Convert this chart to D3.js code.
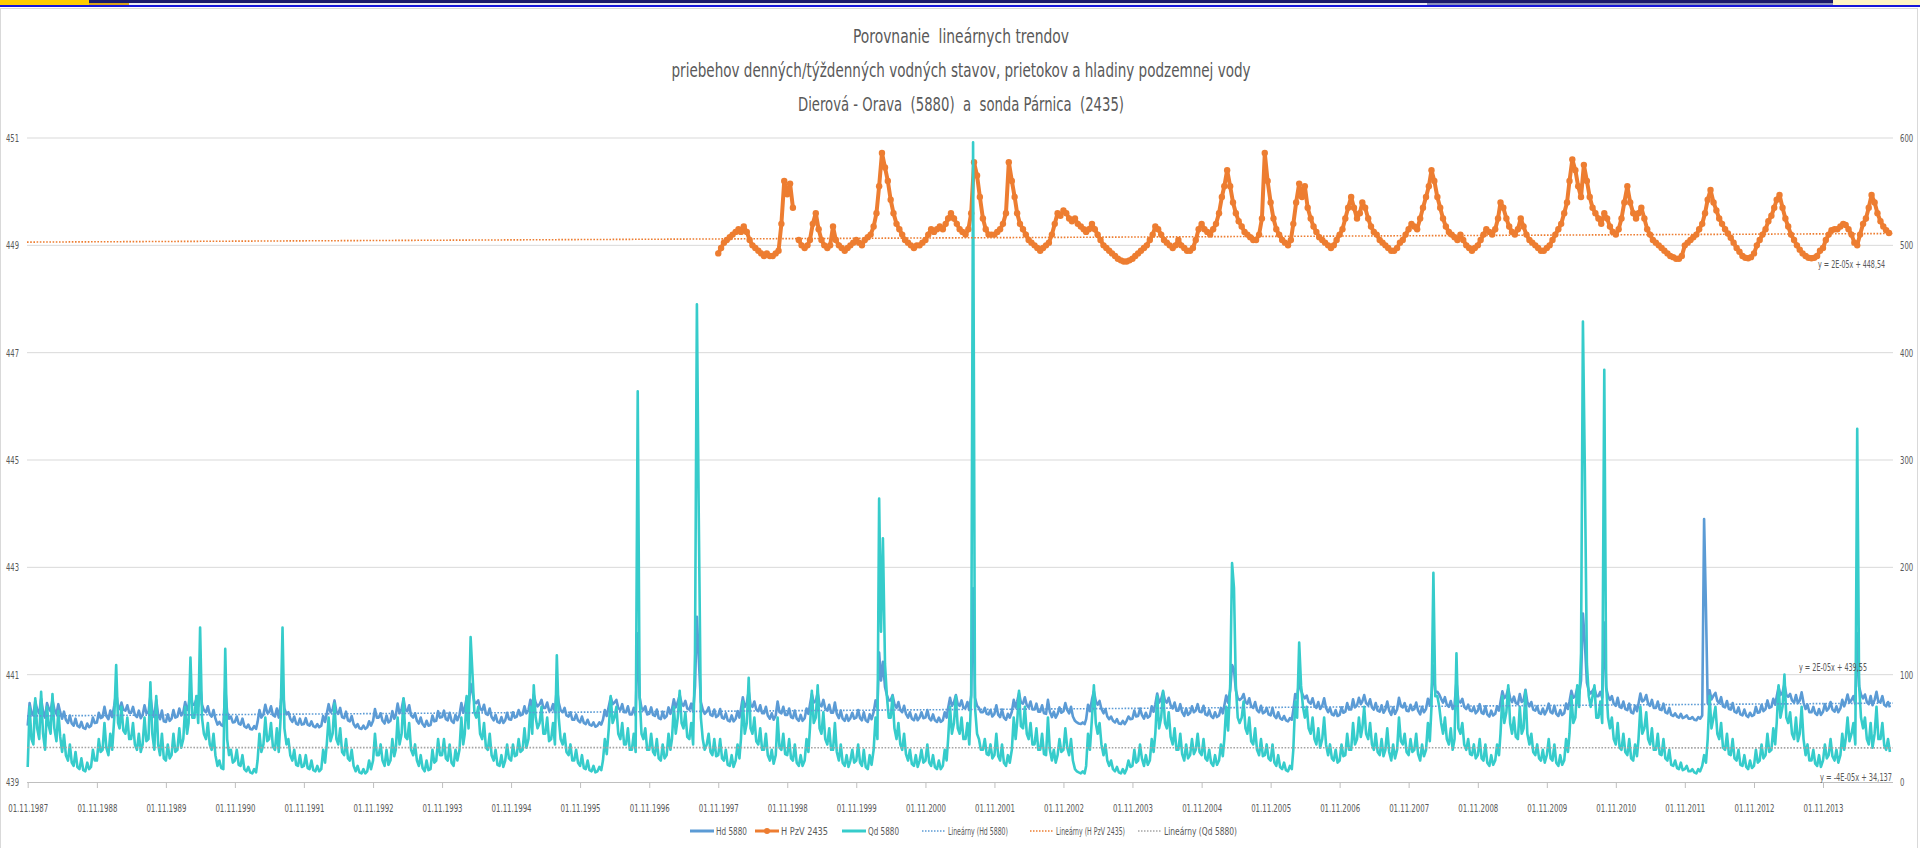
<!DOCTYPE html>
<html>
<head>
<meta charset="utf-8">
<script src="https://cdn.jsdelivr.net/npm/d3@7"></script>
<style>
  body { margin: 0; background: #fff; overflow: hidden; }
  text { font-family: "Liberation Sans Narrow", "DejaVu Sans Condensed", "Liberation Sans", sans-serif; fill: #595959; white-space: pre; }
</style>
</head>
<body>
<svg id="chart" width="1920" height="848"></svg>
<script>
// readings on the 1st, 11th and 21st of each month, one row per hydrological year (Nov-Oct)
const dailyStart = '1987-11-01'
const qd5880 = [
  14,70,40,35,78,50,40,84,45,30,70,52,45,82,50,38,66,42,28,44,25,20,35,18,15,28,14,12,22,11,10,18,12,14,30,20,
  20,40,28,30,55,32,25,45,30,60,109,55,50,70,48,45,60,40,40,55,35,30,45,28,35,60,38,40,93,45,30,80,35,25,45,22,
  20,35,22,25,45,28,30,50,32,40,70,45,55,116,60,60,80,55,144,60,45,40,55,35,30,45,25,15,20,13,12,124,40,25,30,18,
  20,30,16,15,25,12,10,14,9,8,12,9,20,45,28,35,60,38,40,55,33,30,50,28,60,144,50,35,40,25,20,30,16,15,25,14,
  15,25,13,12,20,11,10,15,10,12,30,18,35,60,38,45,73,40,35,50,28,25,40,22,20,30,15,10,15,9,8,12,8,10,20,12,
  20,45,25,25,35,20,15,30,16,20,40,24,30,60,35,45,78,42,40,55,30,25,35,20,15,25,13,10,20,11,12,30,18,20,40,25,
  25,40,22,20,35,18,15,30,20,30,60,35,45,80,50,135,100,65,60,70,45,40,55,32,30,45,25,20,30,16,15,25,14,20,35,22,
  20,35,24,25,40,28,30,50,32,40,70,45,90,60,50,55,70,45,45,60,38,40,55,35,118,60,40,35,45,28,25,35,20,20,30,18,
  15,25,13,12,20,11,10,15,9,10,14,11,20,40,26,50,80,55,60,70,45,40,55,35,35,50,30,30,45,28,364,80,45,40,50,30,
  30,45,28,25,40,22,20,35,22,25,45,30,40,70,45,60,85,55,50,65,42,40,55,35,120,445,246,60,40,30,35,45,28,25,40,24,
  25,40,22,20,30,16,15,25,14,20,35,22,40,75,45,55,97,50,45,60,38,35,50,30,30,45,25,20,30,17,25,60,32,30,45,26,
  25,40,22,20,35,18,15,25,15,20,40,28,50,85,55,60,90,50,45,65,40,35,50,30,30,55,28,20,35,18,15,25,14,20,30,18,
  20,35,18,15,30,14,12,25,16,30,60,40,264,140,227,110,80,60,60,80,50,40,55,35,30,45,26,20,30,17,15,25,14,20,30,18,
  20,35,18,15,25,14,12,20,12,15,30,20,40,70,45,55,80,50,45,60,40,40,55,35,80,596,70,45,40,30,30,40,26,25,35,22,
  25,45,24,20,35,18,15,25,18,30,60,40,55,85,52,50,70,45,40,55,35,35,50,30,30,45,26,25,60,30,20,30,18,25,40,28,
  30,50,32,25,40,20,12,10,9,8,10,8,15,45,30,60,90,55,45,55,35,25,35,20,15,20,12,10,14,9,8,12,8,12,20,14,
  15,30,18,20,35,22,15,25,16,20,40,28,45,80,50,60,85,55,50,65,42,35,50,30,30,45,26,20,35,22,25,40,26,30,45,28,
  25,40,22,20,30,18,15,25,16,20,35,24,40,70,48,90,204,181,90,60,55,60,75,50,45,60,38,35,50,30,25,40,24,25,35,22,
  20,35,18,15,25,14,12,18,11,10,15,12,30,75,60,130,90,70,60,70,50,45,60,40,35,50,32,40,60,35,25,35,22,20,30,18,
  20,35,24,25,45,30,30,55,35,40,60,42,50,70,45,40,55,35,30,45,28,25,40,24,30,50,28,20,35,22,30,60,38,35,45,28,
  25,40,28,30,45,26,20,35,24,30,55,38,70,195,80,80,70,55,45,60,40,35,50,30,40,120,50,45,55,35,30,40,26,25,35,22,
  25,40,22,20,35,18,15,25,16,20,35,25,45,80,55,65,90,55,45,60,42,40,70,45,50,85,45,35,45,28,25,35,22,20,30,18,
  25,40,22,20,35,18,15,25,16,20,40,28,45,80,55,60,90,70,120,429,292,110,80,70,80,90,60,60,75,55,384,90,60,50,60,40,
  35,55,32,30,45,28,25,40,22,20,35,24,40,70,45,50,65,40,35,50,30,30,45,26,25,40,22,20,30,16,15,20,13,12,18,11,
  12,15,10,10,12,9,8,12,10,15,25,18,40,80,50,60,70,45,40,55,32,30,45,26,25,40,22,20,30,16,15,25,14,12,20,13,
  15,30,18,20,35,22,25,45,28,30,50,35,55,90,60,70,100,60,55,65,45,40,60,38,45,70,40,25,35,20,20,30,17,15,25,14,
  20,35,22,25,40,24,20,30,18,25,45,30,40,60,38,45,55,35,329,90,60,50,60,40,35,55,32,45,70,40,40,55,34,30,40,28
]
const hd5880 = [
  440.05,440.47,440.28,440.24,440.51,440.35,440.28,440.55,440.32,440.2,440.47,440.36,440.32,440.53,440.35,440.27,440.45,440.3,440.18,440.31,440.16,440.1,440.24,440.09,440.05,440.18,440.05,440.02,440.12,440.01,439.99,440.09,440.02,440.05,440.2,440.1,
  440.11,440.29,440.19,440.21,440.4,440.23,440.17,440.33,440.21,440.43,440.67,440.4,440.36,440.48,440.35,440.33,440.43,440.29,440.29,440.4,440.25,440.21,440.33,440.19,440.25,440.43,440.28,440.29,440.6,440.33,440.21,440.53,440.25,440.17,440.33,440.13,
  440.12,440.26,440.14,440.18,440.34,440.2,440.22,440.37,440.24,440.3,440.49,440.34,440.41,440.71,440.44,440.44,440.54,440.41,440.83,440.44,440.34,440.3,440.41,440.26,440.22,440.34,440.18,440.07,440.12,440.06,440.04,440.75,440.3,440.18,440.22,440.11,
  440.12,440.22,440.09,440.07,440.18,440.04,440.01,440.07,439.99,439.98,440.04,439.99,440.12,440.34,440.2,440.26,440.44,440.29,440.3,440.41,440.25,440.22,440.37,440.2,440.44,440.83,440.37,440.26,440.3,440.18,440.12,440.22,440.09,440.07,440.18,440.07,
  440.08,440.19,440.07,440.05,440.13,440.04,440.02,440.08,440.02,440.05,440.23,440.12,440.27,440.45,440.3,440.35,440.52,440.31,440.27,440.38,440.21,440.19,440.31,440.15,440.13,440.23,440.08,440.02,440.08,440.0,439.99,440.05,439.99,440.02,440.13,440.05,
  440.14,440.36,440.2,440.2,440.28,440.14,440.09,440.24,440.11,440.14,440.32,440.18,440.24,440.46,440.28,440.36,440.55,440.34,440.32,440.43,440.24,440.2,440.28,440.14,440.09,440.2,440.08,440.03,440.14,440.05,440.06,440.24,440.13,440.14,440.32,440.2,
  440.21,440.33,440.17,440.15,440.29,440.14,440.1,440.25,440.15,440.25,440.47,440.29,440.37,440.57,440.4,440.83,440.67,440.49,440.47,440.52,440.37,440.33,440.44,440.27,440.25,440.37,440.21,440.15,440.25,440.12,440.1,440.21,440.1,440.15,440.29,440.17,
  440.16,440.3,440.2,440.22,440.34,440.24,440.26,440.41,440.28,440.34,440.53,440.38,440.63,440.48,440.41,440.45,440.53,440.38,440.38,440.48,440.33,440.34,440.45,440.3,440.76,440.48,440.34,440.3,440.38,440.24,440.22,440.3,440.16,440.16,440.26,440.15,
  440.11,440.22,440.1,440.08,440.16,440.07,440.05,440.11,440.03,440.05,440.11,440.07,440.16,440.34,440.23,440.41,440.58,440.45,440.48,440.53,440.38,440.34,440.45,440.3,440.3,440.41,440.26,440.26,440.38,440.24,441.77,440.58,440.38,440.34,440.41,440.26,
  440.27,440.39,440.25,440.23,440.35,440.19,440.17,440.31,440.19,440.23,440.39,440.27,440.35,440.54,440.39,440.49,440.62,440.46,440.42,440.51,440.37,440.35,440.46,440.31,440.78,442.08,441.3,440.49,440.35,440.27,440.31,440.39,440.25,440.23,440.35,440.21,
  440.24,440.36,440.2,440.18,440.28,440.15,440.13,440.24,440.13,440.18,440.32,440.2,440.36,440.58,440.4,440.47,440.69,440.43,440.4,440.5,440.35,440.32,440.43,440.28,440.28,440.4,440.24,440.18,440.28,440.16,440.24,440.5,440.3,440.28,440.4,440.25,
  440.25,440.37,440.21,440.19,440.33,440.18,440.14,440.25,440.14,440.19,440.37,440.27,440.44,440.64,440.48,440.51,440.66,440.44,440.41,440.53,440.37,440.33,440.44,440.29,440.29,440.48,440.27,440.19,440.33,440.18,440.14,440.25,440.14,440.19,440.29,440.18,
  440.2,440.34,440.19,440.15,440.3,440.15,440.12,440.26,440.17,440.3,440.52,440.38,441.41,440.89,441.24,440.77,440.62,440.52,440.52,440.62,440.45,440.38,440.49,440.34,440.3,440.42,440.27,440.2,440.3,440.18,440.15,440.26,440.15,440.2,440.3,440.19,
  440.2,440.34,440.19,440.15,440.26,440.15,440.12,440.2,440.12,440.15,440.3,440.2,440.38,440.57,440.42,440.49,440.62,440.45,440.42,440.52,440.38,440.38,440.49,440.34,440.62,442.61,440.57,440.42,440.38,440.3,440.3,440.38,440.27,440.26,440.34,440.22,
  440.27,440.43,440.25,440.21,440.35,440.2,440.16,440.27,440.2,440.31,440.53,440.39,440.5,440.66,440.48,440.46,440.58,440.43,440.39,440.5,440.35,440.35,440.46,440.31,440.31,440.43,440.28,440.27,440.53,440.31,440.21,440.31,440.2,440.27,440.39,440.29,
  440.32,440.47,440.34,440.28,440.4,440.22,440.14,440.11,440.09,440.08,440.11,440.08,440.17,440.44,440.32,440.54,440.69,440.51,440.44,440.51,440.36,440.28,440.36,440.22,440.17,440.22,440.14,440.11,440.17,440.09,440.08,440.14,440.08,440.14,440.22,440.17,
  440.18,440.33,440.22,440.23,440.37,440.25,440.18,440.29,440.2,440.23,440.41,440.31,440.45,440.65,440.48,440.55,440.68,440.52,440.48,440.57,440.43,440.37,440.48,440.33,440.33,440.45,440.3,440.23,440.37,440.25,440.29,440.41,440.3,440.33,440.45,440.31,
  440.3,440.42,440.26,440.24,440.34,440.23,440.19,440.3,440.21,440.24,440.38,440.28,440.42,440.61,440.48,440.71,441.18,441.1,440.71,440.56,440.53,440.56,440.64,440.49,440.46,440.56,440.41,440.38,440.49,440.34,440.3,440.42,440.28,440.3,440.38,440.26,
  440.24,440.38,440.23,440.19,440.3,440.19,440.16,440.23,440.15,440.13,440.19,440.16,440.34,440.64,440.56,440.9,440.71,440.61,440.56,440.61,440.49,440.46,440.56,440.42,440.38,440.49,440.36,440.42,440.56,440.38,440.3,440.38,440.26,440.24,440.34,440.23,
  440.25,440.39,440.29,440.31,440.47,440.35,440.35,440.54,440.39,440.43,440.57,440.45,440.5,440.62,440.47,440.43,440.54,440.39,440.35,440.47,440.33,440.31,440.43,440.29,440.35,440.5,440.33,440.25,440.39,440.27,440.35,440.57,440.42,440.39,440.47,440.33,
  440.32,440.44,440.34,440.36,440.48,440.33,440.26,440.4,440.3,440.36,440.55,440.43,440.63,441.17,440.68,440.68,440.63,440.55,440.48,440.58,440.44,440.4,440.51,440.36,440.44,440.87,440.51,440.48,440.55,440.4,440.36,440.44,440.33,440.32,440.4,440.28,
  440.33,440.45,440.29,440.27,440.41,440.26,440.22,440.33,440.24,440.27,440.41,440.33,440.49,440.69,440.56,440.61,440.74,440.56,440.49,440.59,440.47,440.45,440.64,440.49,440.52,440.72,440.49,440.41,440.49,440.35,440.33,440.41,440.29,440.27,440.37,440.26,
  440.34,440.46,440.3,440.28,440.42,440.27,440.23,440.34,440.25,440.28,440.46,440.36,440.5,440.7,440.57,440.6,440.75,440.65,440.89,442.14,441.61,440.85,440.7,440.65,440.7,440.75,440.6,440.6,440.68,440.57,441.97,440.75,440.6,440.53,440.6,440.46,
  440.42,440.57,440.4,440.38,440.5,440.36,440.34,440.46,440.3,440.28,440.42,440.32,440.46,440.65,440.5,440.53,440.62,440.46,440.42,440.53,440.38,440.38,440.5,440.35,440.34,440.46,440.3,440.28,440.38,440.25,440.23,440.28,440.22,440.2,440.27,440.19,
  440.21,440.24,440.18,440.18,440.21,440.16,440.15,440.21,440.18,440.24,443.9,442.2,440.47,440.71,440.54,440.61,440.66,440.51,440.47,440.58,440.41,440.39,440.51,440.36,440.35,440.47,440.31,440.29,440.39,440.26,440.24,440.35,440.24,440.21,440.29,440.23,
  440.25,440.4,440.29,440.3,440.44,440.32,440.36,440.52,440.38,440.4,440.55,440.44,440.59,440.77,440.62,440.67,440.82,440.62,440.59,440.64,440.52,440.48,440.62,440.47,440.52,440.67,440.48,440.36,440.44,440.3,440.3,440.4,440.28,440.25,440.36,440.25,
  440.31,440.45,440.33,440.37,440.49,440.35,440.31,440.41,440.3,440.37,440.53,440.41,440.49,440.63,440.48,440.53,440.6,440.45,441.77,440.78,440.63,440.56,440.63,440.49,440.45,440.6,440.43,440.53,440.68,440.49,440.49,440.6,440.44,440.41,440.49,440.39
]
// weekly groundwater readings, kept here on the 1st and 16th of each month
const pzvStart = '1997-11-01'
const hPzV2435 = [
  448.85,448.95,449.05,449.1,449.15,449.2,449.25,449.3,449.25,449.35,449.25,449.1,449.0,448.95,448.9,448.85,448.8,448.85,448.8,448.8,448.85,448.9,449.4,450.2,
  449.95,450.15,449.7,null,449.1,449.0,448.95,449.0,449.1,449.4,449.6,449.3,449.1,449.0,448.95,449.0,449.35,449.1,449.0,448.95,448.9,448.95,449.0,449.05,
  449.1,449.05,449.0,449.1,449.15,449.2,449.35,449.6,450.1,450.72,450.45,450.2,449.85,449.6,449.4,449.3,449.2,449.1,449.05,449.0,448.95,449.0,449.0,449.05,
  449.1,449.2,449.3,449.25,449.3,449.35,449.3,449.4,449.5,449.6,449.5,449.4,449.3,449.25,449.2,449.3,449.6,450.55,450.3,449.9,449.5,449.3,449.2,449.2,
  449.2,449.25,449.3,449.4,449.6,450.55,450.2,449.9,449.6,449.4,449.3,449.2,449.1,449.05,449.0,448.95,448.9,448.95,449.0,449.05,449.2,449.4,449.6,449.55,
  449.65,449.6,449.5,449.45,449.5,449.4,449.35,449.3,449.25,449.3,449.4,449.3,449.2,449.1,449.0,448.95,448.9,448.85,448.8,448.75,448.72,448.7,448.7,448.72,
  448.75,448.8,448.85,448.9,448.95,449.0,449.1,449.2,449.35,449.3,449.2,449.1,449.05,449.0,448.95,449.0,449.1,449.0,448.95,448.9,448.9,448.95,449.1,449.3,
  449.4,449.3,449.25,449.2,449.3,449.4,449.6,449.9,450.1,450.4,450.1,449.8,449.6,449.45,449.35,449.25,449.2,449.15,449.1,449.1,449.2,449.5,450.72,450.2,
  449.8,449.5,449.3,449.2,449.1,449.05,449.0,449.1,449.4,449.8,450.15,449.9,450.1,449.7,449.5,449.35,449.25,449.15,449.1,449.05,449.0,448.95,449.0,449.1,
  449.2,449.3,449.5,449.7,449.9,449.7,449.5,449.6,449.8,449.7,449.5,449.35,449.25,449.2,449.1,449.05,449.0,448.95,448.9,448.9,448.95,449.05,449.1,449.2,
  449.3,449.4,449.35,449.3,449.5,449.7,449.9,450.1,450.4,450.2,449.9,449.7,449.5,449.35,449.25,449.2,449.15,449.1,449.2,449.1,449.0,448.95,448.9,448.95,
  449.0,449.1,449.2,449.3,449.25,449.2,449.3,449.5,449.8,449.7,449.5,449.35,449.25,449.2,449.3,449.5,449.35,449.2,449.1,449.05,449.0,448.95,448.9,448.9,
  448.95,449.0,449.1,449.2,449.3,449.4,449.6,449.8,450.2,450.6,450.4,450.1,449.9,450.5,450.2,449.9,449.7,449.6,449.5,449.4,449.6,449.5,449.35,449.25,
  449.2,449.3,449.5,449.8,450.1,449.8,449.6,449.5,449.6,449.7,449.5,449.3,449.2,449.1,449.05,449.0,448.95,448.9,448.85,448.8,448.78,448.75,448.75,448.8,
  449.0,449.05,449.1,449.15,449.2,449.3,449.4,449.6,449.85,450.03,449.8,449.65,449.5,449.4,449.3,449.22,449.14,449.05,448.95,448.88,448.8,448.77,448.76,448.78,
  448.85,449.0,449.1,449.2,449.3,449.45,449.55,449.7,449.85,449.94,449.7,449.5,449.35,449.2,449.1,449.0,448.92,448.85,448.8,448.77,448.76,448.77,448.8,448.9,
  448.95,449.1,449.2,449.28,449.3,449.3,449.35,449.4,449.38,449.3,449.2,449.05,449.0,449.2,449.4,449.5,449.7,449.94,449.8,449.6,449.45,449.35,449.28,449.23
]

// trend lines, end values
const trendDates = ['1987-11-01', '2014-11-01']
const trendHd = [440.23, 440.47]
const trendPzV = [449.06, 449.22]
const trendQd = [32.1, 31.8]

const leftTicks = [439, 441, 443, 445, 447, 449, 451]
const rightTicks = [0, 100, 200, 300, 400, 500, 600]
const yearTicks = d3.range(1987, 2014)

const titleLines = [
  'Porovnanie  lineárnych trendov',
  'priebehov denných/týždenných vodných stavov, prietokov a hladiny podzemnej vody',
  'Dierová - Orava  (5880)  a  sonda Párnica  (2435)'
]
const equations = ['y = 2E-05x + 448,54', 'y = 2E-05x + 439,55', 'y = -4E-05x + 34,137']

const colHd = '#5b9bd5', colPzV = '#ed7d31', colQd = '#36cccb', colGray = '#a5a5a5'

const parse = d3.timeParse('%Y-%m-%d')
// dates for the reading grids
const byDays = (start, values, days) => values.map((v, i) => {
  const s = parse(start)
  return { date: new Date(s.getFullYear(), s.getMonth() + Math.floor(i / days.length), days[i % days.length]), v }
})

const svg = d3.select('#chart')

// window strip at the very top
const strip = [
  [0, 0, 89, 5, '#ffcc00'], [89, 0, 1744, 3, '#1b1b6b'], [89, 3, 40, 2, '#d9a21b'],
  [129, 3, 1298, 2, '#ececf2'], [1427, 3, 406, 2, '#8a90bc'], [1833, 0, 87, 5, '#fff6c4'],
  [0, 5, 1920, 2, '#1616d9']
]
svg.selectAll('rect.strip').data(strip).join('rect').attr('class', 'strip')
  .attr('x', d => d[0]).attr('y', d => d[1]).attr('width', d => d[2]).attr('height', d => d[3]).attr('fill', d => d[4])

svg.append('rect').attr('x', 0.5).attr('y', 8.5).attr('width', 1917).attr('height', 845)
  .attr('fill', '#fff').attr('stroke', '#d9d9d9')

const x = d3.scaleTime().domain(trendDates.map(parse)).range([27.7, 1892])
const yL = d3.scaleLinear().domain([439, 451]).range([782, 138])
const yR = d3.scaleLinear().domain([0, 600]).range([782, 138])

// gridlines
svg.append('g').selectAll('line').data(leftTicks.slice(1)).join('line')
  .attr('x1', 27).attr('x2', 1893).attr('y1', d => yL(d)).attr('y2', d => yL(d))
  .attr('stroke', '#d9d9d9').attr('stroke-width', 1)

// x axis
const xAxis = svg.append('g').attr('transform', 'translate(0,782)')
  .call(d3.axisBottom(x).tickValues(yearTicks.map(y => new Date(y, 10, 1))).tickSize(6).tickFormat(d3.timeFormat('%d.%m.%Y')))
xAxis.select('.domain').attr('stroke', '#bfbfbf').attr('d', 'M27,0.5H1893')
xAxis.selectAll('.tick line').attr('stroke', '#bfbfbf')
xAxis.selectAll('.tick text').attr('y', 22).attr('font-size', 11).attr('fill', '#595959')
  .attr('textLength', 40).attr('lengthAdjust', 'spacingAndGlyphs')

// y labels
svg.append('g').selectAll('text').data(leftTicks).join('text')
  .attr('x', 19).attr('y', d => yL(d) + 4).attr('text-anchor', 'end').attr('font-size', 11)
  .attr('textLength', 13).attr('lengthAdjust', 'spacingAndGlyphs').text(d => d)
svg.append('g').selectAll('text').data(rightTicks).join('text')
  .attr('x', 1900).attr('y', d => yR(d) + 4).attr('font-size', 11)
  .attr('textLength', d => String(d).length * 4.4).attr('lengthAdjust', 'spacingAndGlyphs').text(d => d)

// series
const hdData = byDays(dailyStart, hd5880, [1, 11, 21])
const qdData = byDays(dailyStart, qd5880, [1, 11, 21])
const pzvData = byDays(pzvStart, hPzV2435, [1, 16])

const lineL = d3.line().defined(d => d.v != null).x(d => x(d.date)).y(d => yL(d.v))
const lineR = d3.line().x(d => x(d.date)).y(d => yR(d.v))

svg.append('path').datum(hdData).attr('d', lineL).attr('fill', 'none')
  .attr('stroke', colHd).attr('stroke-width', 2.6).attr('stroke-linejoin', 'round')

svg.append('path').datum(pzvData).attr('d', lineL).attr('fill', 'none')
  .attr('stroke', colPzV).attr('stroke-width', 4).attr('stroke-linejoin', 'round')
svg.append('g').selectAll('circle').data(pzvData.filter(d => d.v != null)).join('circle')
  .attr('cx', d => x(d.date)).attr('cy', d => yL(d.v)).attr('r', 3.2).attr('fill', colPzV)

svg.append('path').datum(qdData).attr('d', lineR).attr('fill', 'none')
  .attr('stroke', colQd).attr('stroke-width', 2.6).attr('stroke-linejoin', 'round')

// trend lines
const trend = (vals, y, col) => svg.append('line')
  .attr('x1', 27).attr('x2', 1893)
  .attr('y1', y(vals[0])).attr('y2', y(vals[1]))
  .attr('stroke', col).attr('stroke-width', 1.6).attr('stroke-dasharray', '1.6,1.6')
trend(trendHd, yL, colHd)
trend(trendPzV, yL, colPzV)
trend(trendQd, yR, colGray)

// equations
const eqPos = [[1818, 268, 67], [1799, 671, 68], [1820, 781, 72]]
svg.append('g').selectAll('text').data(equations).join('text')
  .attr('x', (d, i) => eqPos[i][0]).attr('y', (d, i) => eqPos[i][1]).attr('font-size', 10)
  .attr('textLength', (d, i) => eqPos[i][2]).attr('lengthAdjust', 'spacingAndGlyphs').text(d => d)

// title
const titleY = [43, 77, 111], titleW = [216, 579, 326]
svg.append('g').selectAll('text').data(titleLines).join('text')
  .attr('x', 961).attr('y', (d, i) => titleY[i]).attr('text-anchor', 'middle').attr('font-size', 19)
  .attr('textLength', (d, i) => titleW[i]).attr('lengthAdjust', 'spacingAndGlyphs').text(d => d)

// legend
const legend = [
  { name: 'Hd 5880', col: colHd, x: 690, w: 31, dot: false, mark: false },
  { name: 'H PzV 2435', col: colPzV, x: 755, w: 47, dot: false, mark: true },
  { name: 'Qd 5880', col: colQd, x: 842, w: 31, dot: false, mark: false },
  { name: 'Lineárny (Hd 5880)', col: colHd, x: 922, w: 60, dot: true, mark: false },
  { name: 'Lineárny (H PzV 2435)', col: colPzV, x: 1030, w: 69, dot: true, mark: false },
  { name: 'Lineárny (Qd 5880)', col: colGray, x: 1138, w: 73, dot: true, mark: false }
]
const lg = svg.append('g').selectAll('g').data(legend).join('g')
  .attr('transform', d => `translate(${d.x},831)`)
lg.append('line').attr('x1', 0).attr('x2', 24).attr('stroke', d => d.col)
  .attr('stroke-width', d => d.dot ? 1.5 : 3)
  .attr('stroke-dasharray', d => d.dot ? '1.5,1.5' : null)
lg.filter(d => d.mark).append('circle').attr('cx', 12).attr('r', 3).attr('fill', d => d.col)
lg.append('text').attr('x', 26).attr('y', 4).attr('font-size', 10)
  .attr('textLength', d => d.w).attr('lengthAdjust', 'spacingAndGlyphs').text(d => d.name)
</script>
</body>
</html>
